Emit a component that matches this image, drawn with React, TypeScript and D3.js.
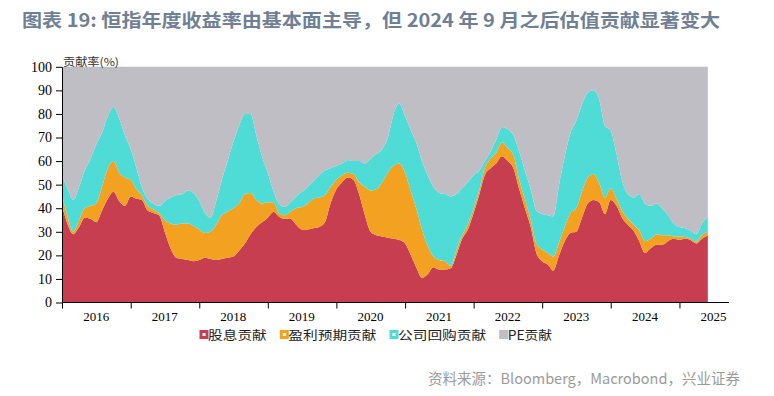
import React, { useEffect, useRef } from 'react';
import * as d3 from 'd3';

// monthly contributions, Jan 2016 onwards (%)
const startMonth = new Date(2016, 0, 1);

const dividend = [
  41, 33, 29, 32, 36, 35.5, 34, 39, 44, 47, 43, 41,
  45, 44, 43.5, 39, 38, 37, 30, 23, 19, 18.5, 18, 17.5,
  18, 19, 18.5, 18, 18.5, 19, 19.5, 22, 25, 29, 32, 34,
  36, 38.5, 36.5, 35.5, 35.5, 33, 31, 31, 31.5, 32, 34, 42,
  48, 51, 53, 52, 46, 37, 30, 28.5, 28, 27.5, 27, 26.5,
  25, 20, 15, 10.5, 12, 15, 14, 14, 14.5, 20, 27, 31,
  38, 46, 54, 57, 59, 62, 60, 57, 48, 40, 32, 21,
  17.5, 16, 13.5, 20, 26, 29.5, 30, 36, 42, 43.5, 42.5, 37.5,
  43.5, 41, 36, 33, 30.5, 26, 21, 23, 24.5, 24.5, 26, 27,
  26.5, 27, 26.5, 25, 27, 28.5,
];

const earnings = [
  5, 3, 1, 3, 4, 5.5, 8, 10, 13, 13, 12, 12,
  7, 4, 2, 2, 1.5, 1, 5, 10.5, 14, 15, 15.5, 15,
  13, 10.5, 11.5, 15, 18.5, 19.5, 20.5, 20, 21, 17.5, 11.5, 8,
  6.5, 4, 1.5, 1.5, 3, 7, 9.5, 11, 12.5, 12.5, 11.5, 7,
  4, 3, 2, 2.5, 5, 12, 17.5, 19.5, 23, 27.5, 31, 32.5,
  30, 27, 25, 20.5, 12, 4.5, 4, 3.5, 1, 2, 1.5, 2,
  2, 2, 3, 4, 4.5, 6, 5.5, 5.5, 4, 4, 3, 4,
  5, 5, 6, 5.5, 6, 8.5, 10, 11, 11, 11, 8, 7,
  5, 3, 3, 2.5, 2.5, 4.5, 5, 4, 4.5, 4, 2.5, 1,
  1.5, 0.8, 0.7, 0.8, 1.6, 1.5,
];

const buyback = [
  8, 12, 13.5, 14, 16, 20, 25, 23, 22, 23, 23, 18,
  13, 9, 3.5, 3, 2.5, 3, 8, 11, 12.5, 12.5, 14, 14,
  12, 8.5, 6, 10, 15, 21.5, 28, 33, 34, 33.5, 27.5, 20,
  12.5, 4.5, 4, 3.5, 4, 5, 6.5, 7, 7.5, 9.5, 10.5, 8,
  6, 5, 5.5, 5.5, 9, 10, 13.5, 15, 14, 15, 22, 25.5,
  24, 26, 28, 29, 30, 29.5, 28.5, 28.5, 29.5, 24, 20, 18,
  14, 8, 3, 3, 5.5, 6.5, 8, 8.5, 12, 12, 13, 14,
  15, 16, 17, 24.5, 30, 34, 37, 37, 36, 35.5, 35.5, 30.5,
  24.5, 19, 13, 10.5, 11.5, 15.5, 16, 14, 13, 11.5, 8.5, 5.5,
  4, 3.7, 3.3, 3.2, 4.9, 6.5,
];

const pe = [
  46, 52, 56.5, 51, 44, 39, 33, 28, 21, 17, 22, 29,
  35, 43, 51, 56, 58, 59, 57, 55.5, 54.5, 54, 52.5, 53.5,
  57, 62, 64, 57, 48, 40, 32, 25, 20, 20, 29, 38,
  45, 53, 58, 59.5, 57.5, 55, 53, 51, 48.5, 46, 44, 43,
  42, 41, 39.5, 40, 40, 41, 39, 37, 35, 30, 20, 15.5,
  21, 27, 32, 40, 46, 51, 53.5, 54, 55, 54, 51.5, 49,
  46, 44, 40, 36, 31, 25.5, 26.5, 29, 36, 44, 52, 61,
  62.5, 63, 63.5, 50, 38, 28, 23, 16, 11, 10, 14, 25,
  27, 37, 48, 54, 55.5, 54, 58, 59, 58, 60, 63, 66.5,
  68, 68.5, 69.5, 71, 66.5, 63.5,
];

const keys = ['dividend', 'earnings', 'buyback', 'pe'];
const seriesNames = ['股息贡献', '盈利预期贡献', '公司回购贡献', 'PE贡献'];
const colors = ['#C73E50', '#F3A121', '#50DCD6', '#BEBEC4'];
const yearLabels = ['2016', '2017', '2018', '2019', '2020', '2021', '2022', '2023', '2024', '2025'];
const yTicks = [0, 10, 20, 30, 40, 50, 60, 70, 80, 90, 100];

const titleText = '图表 19: 恒指年度收益率由基本面主导，但 2024 年 9 月之后估值贡献显著变大';
const sourceText = '资料来源：Bloomberg，Macrobond，兴业证券';

const App = () => {
  const svgRef = useRef<SVGSVGElement>(null);

  useEffect(() => {
    const svg = d3.select(svgRef.current);
    svg.selectAll('*').remove();

    const rows = dividend.map((d, i) => ({
      date: d3.timeMonth.offset(startMonth, i),
      dividend: d,
      earnings: earnings[i],
      buyback: buyback[i],
      pe: pe[i],
    }));
    const stacked = d3.stack<any>().keys(keys)(rows);

    const x = d3.scaleTime()
      .domain([new Date(2016, 0, 1), new Date(2026, 0, 1)])
      .range([62, 748]);
    const y = d3.scaleLinear().domain([0, 100]).range([302.5, 66.8]);

    // title
    svg.append('text')
      .attr('x', 22)
      .attr('y', 27)
      .attr('font-family', '"Noto Sans CJK SC", "Noto Sans", sans-serif')
      .attr('font-weight', 'bold')
      .attr('font-size', 18)
      .attr('fill', '#6E7F96')
      .attr('textLength', 698)
      .attr('lengthAdjust', 'spacingAndGlyphs')
      .text(titleText);

    // stacked areas
    const area = d3.area<any>()
      .x(d => x(d.data.date))
      .y0(d => y(d[0]))
      .y1(d => y(d[1]))
      .curve(d3.curveMonotoneX);

    svg.append('g')
      .selectAll('path')
      .data(stacked)
      .enter().append('path')
      .attr('d', area)
      .attr('fill', (d, i) => colors[i]);

    // y axis
    const yAxis = svg.append('g')
      .attr('transform', 'translate(62,0)')
      .call(d3.axisLeft(y).tickValues(yTicks).tickSize(6).tickSizeOuter(0).tickPadding(4));
    yAxis.select('.domain').attr('stroke', '#000');
    yAxis.selectAll('line').attr('stroke', '#000');
    yAxis.selectAll('text')
      .attr('font-family', '"Liberation Serif", serif')
      .attr('font-size', 14)
      .attr('fill', '#000');

    // x axis
    const years = yearLabels.map(l => new Date(+l, 0, 1));
    const xAxis = svg.append('g')
      .attr('transform', `translate(0,${y(0)})`)
      .call(d3.axisBottom(x).tickValues(years).tickSize(6).tickFormat(() => ''));
    xAxis.select('.domain').remove();
    xAxis.selectAll('line').attr('stroke', '#000');
    svg.append('line')
      .attr('x1', 62).attr('x2', 729)
      .attr('y1', y(0)).attr('y2', y(0))
      .attr('stroke', '#000');

    svg.append('g')
      .selectAll('text')
      .data(yearLabels)
      .enter().append('text')
      .attr('x', d => x(new Date(+d, 6, 1)))
      .attr('y', 321)
      .attr('text-anchor', 'middle')
      .attr('font-family', '"Liberation Serif", serif')
      .attr('font-size', 13)
      .attr('fill', '#000')
      .text(d => d);

    // y axis title
    svg.append('text')
      .attr('x', 63)
      .attr('y', 66)
      .attr('font-family', '"Noto Sans CJK SC", sans-serif')
      .attr('font-size', 11)
      .attr('fill', '#333')
      .attr('textLength', 56)
      .attr('lengthAdjust', 'spacingAndGlyphs')
      .text('贡献率(%)');

    // legend
    const legendW = seriesNames.map(n => n.replace('PE', '').length * 14.7 + (n.includes('PE') ? 15 : 0));
    let lx = 199.5;
    const legendY = 335;
    seriesNames.forEach((name, i) => {
      const g = svg.append('g');
      g.append('rect')
        .attr('x', lx).attr('y', legendY - 5)
        .attr('width', 9).attr('height', 9)
        .attr('fill', colors[i]);
      if (i < 3) {
        g.append('rect')
          .attr('x', lx + 3).attr('y', legendY - 2)
          .attr('width', 3).attr('height', 3)
          .attr('fill', '#fff');
      }
      g.append('text')
        .attr('x', lx + 8.5)
        .attr('y', legendY + 4.5)
        .attr('font-family', '"Noto Sans CJK SC", sans-serif')
        .attr('font-size', 12.5)
        .attr('fill', '#222')
        .attr('textLength', legendW[i])
        .attr('lengthAdjust', 'spacingAndGlyphs')
        .text(name);
      lx += 8.5 + legendW[i] + 13;
    });

    // source
    svg.append('text')
      .attr('x', 428)
      .attr('y', 384)
      .attr('font-family', '"Noto Sans CJK SC", "Noto Sans", sans-serif')
      .attr('font-size', 14.5)
      .attr('fill', '#9A9A9A')
      .text(sourceText);
  }, []);

  return (
    <svg
      ref={svgRef}
      width={774}
      height={396}
      style={{ position: 'absolute', left: 0, top: 0, background: '#fff' }}
    />
  );
};

export default App;
